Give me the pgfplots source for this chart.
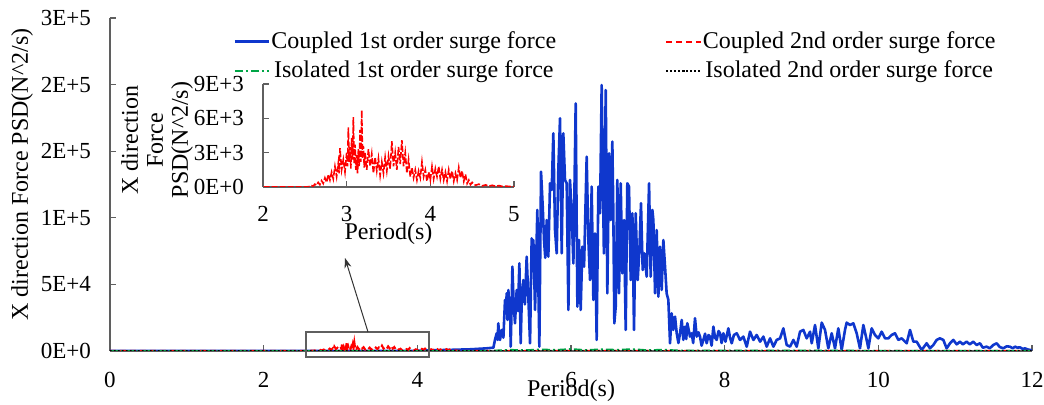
\documentclass[border=0pt]{standalone}
\usepackage{fontspec}
\setmainfont{Liberation Serif}
\usepackage{pgfplots}
\pgfplotsset{compat=1.18}
\usepackage{pgfplotstable}
\usetikzlibrary{arrows.meta}
\definecolor{cblue}{RGB}{15,55,205}
\definecolor{cred}{RGB}{255,0,0}
\definecolor{cgreen}{RGB}{0,165,70}
\definecolor{axgray}{RGB}{95,95,95}

\pgfplotstableread{
x y
0 0
3.9 0
4.1 400
4.4 800
4.7 1300
4.9 2000
4.99 2500
5.01 8300
5.033 13300
5.045 8300
5.054 20800
5.065 10000
5.076 8300
5.098 15800
5.12 10000
5.141 38300
5.152 28300
5.163 43300
5.174 23300
5.185 45800
5.195 30800
5.206 40000
5.215 3250
5.226 30000
5.237 63300
5.254 35000
5.271 20800
5.293 45800
5.31 30000
5.328 65800
5.345 5800
5.36 40000
5.380 53300
5.40 35000
5.423 70800
5.445 40000
5.467 5800
5.488 84600
5.50 60000
5.510 83300
5.532 30800
5.562 105900
5.575 50000
5.588 3250
5.610 134600
5.632 108400
5.649 83300
5.665 70000
5.684 98300
5.705 70800
5.727 125900
5.749 120900
5.770 163400
5.792 90800
5.814 73300
5.835 135900
5.857 174700
5.879 73300
5.900 163400
5.922 128400
5.944 125900
5.966 30800
5.987 128400
6.009 103400
6.031 65800
6.061 185900
6.083 33300
6.104 83300
6.126 30800
6.148 78300
6.170 63300
6.204 145900
6.226 83300
6.248 53300
6.269 123400
6.291 38300
6.313 88300
6.334 8300
6.356 123400
6.378 103400
6.399 199700
6.428 73300
6.452 195900
6.473 43300
6.495 148400
6.517 98300
6.538 157200
6.551 103400
6.564 20800
6.582 33300
6.603 128400
6.625 43300
6.647 125900
6.668 58300
6.690 98300
6.712 15800
6.733 125900
6.755 123400
6.777 53300
6.799 103400
6.820 15800
6.842 103400
6.868 53300
6.890 75800
6.911 110900
6.933 60800
6.955 73300
6.985 55800
7.016 125900
7.037 55800
7.059 105900
7.072 98300
7.094 43300
7.115 90800
7.137 40800
7.159 78300
7.180 45800
7.202 83300
7.224 63300
7.245 43300
7.267 38300
7.289 5800
7.310 28300
7.332 15800
7.354 25800
7.376 13300
7.398 6000
7.419 13300
7.441 23300
7.462 8300
7.484 18300
7.50 9000
7.514 20800
7.549 10800
7.571 13300
7.59 6000
7.614 24600
7.636 10800
7.66 14000
7.679 10800
7.70 4000
7.723 8300
7.745 13000
7.766 5800
7.79 12000
7.809 10800
7.83 4000
7.853 18300
7.875 10000
7.896 8300
7.92 15000
7.940 13300
7.96 6000
7.983 13300
8.01 7000
8.048 17000
8.07 10000
8.092 5800
8.12 12000
8.157 13300
8.200 8300
8.243 10800
8.287 3250
8.330 14500
8.374 8300
8.417 12000
8.461 7000
8.504 10800
8.547 3250
8.591 9500
8.634 3250
8.677 8300
8.721 9500
8.764 17000
8.807 4500
8.851 3250
8.894 8300
8.937 3250
8.981 14500
9.024 15800
9.068 9500
9.111 14500
9.133 5800
9.176 19500
9.219 2000
9.263 21300
9.306 15800
9.349 2000
9.393 13300
9.436 2000
9.479 17000
9.523 750
9.566 15800
9.588 21300
9.631 19500
9.675 20800
9.718 13300
9.761 2000
9.805 19500
9.848 8300
9.870 2000
9.913 17000
9.957 12000
10.000 9500
10.043 14500
10.087 9500
10.130 9500
10.173 12000
10.217 13300
10.260 8300
10.304 9500
10.369 5800
10.412 15800
10.456 7000
10.499 7000
10.564 750
10.629 5800
10.672 2000
10.716 4500
10.759 8300
10.802 9500
10.846 8300
10.889 2000
10.933 5800
10.976 8300
11.02 5000
11.063 7000
11.10 5000
11.149 7000
11.19 5000
11.236 7000
11.279 4500
11.323 5800
11.36 2500
11.410 3250
11.45 2000
11.496 4500
11.540 5800
11.58 3000
11.626 2000
11.67 3500
11.713 3250
11.75 2000
11.778 3250
11.81 2500
11.843 2750
11.88 1500
11.908 2000
11.939 1250
12.0 500
}\bluedata

\pgfplotstableread{
x y
0 0
2.50 0
2.54 20
2.56 50
2.58 120
2.60 80
2.62 250
2.64 150
2.66 400
2.68 200
2.70 550
2.72 300
2.74 800
2.76 400
2.78 1100
2.80 600
2.82 1300
2.84 700
2.86 1800
2.88 900
2.90 2100
2.91 1200
2.92 3400
2.94 1500
2.96 2400
2.98 1300
3.00 3000
3.01 1800
3.02 5200
3.03 2200
3.04 3500
3.05 1600
3.06 4300
3.07 2400
3.08 6100
3.09 2000
3.10 3700
3.11 1500
3.12 2800
3.13 1200
3.14 3300
3.15 1800
3.16 5000
3.17 2200
3.18 6700
3.19 2500
3.20 3600
3.21 1700
3.22 3000
3.24 1500
3.26 3300
3.28 1800
3.30 2900
3.32 1200
3.34 2600
3.36 1400
3.38 2500
3.40 1000
3.42 2200
3.44 1200
3.46 2600
3.48 1400
3.50 2700
3.52 1600
3.54 4000
3.56 1800
3.58 3000
3.60 1500
3.62 3500
3.64 2000
3.66 4100
3.68 1800
3.70 3000
3.72 1200
3.74 2400
3.76 900
3.78 1700
3.80 800
3.82 1500
3.84 600
3.86 1400
3.88 800
3.90 2200
3.92 900
3.94 1500
3.96 500
3.98 1300
4.00 600
4.02 1800
4.04 700
4.06 1600
4.08 900
4.10 1800
4.12 700
4.14 1500
4.16 600
4.18 1300
4.20 500
4.22 1500
4.24 700
4.26 1400
4.28 500
4.30 1200
4.32 600
4.34 1700
4.36 800
4.38 1400
4.40 500
4.42 1100
4.44 300
4.46 600
4.48 200
4.50 400
4.54 150
4.58 250
4.62 100
4.66 180
4.70 80
4.74 150
4.78 60
4.82 120
4.86 50
4.90 80
4.95 40
5.00 30
6.00 150
7.00 120
8.00 60
10.00 40
12.00 20
}\reddata

\pgfplotstableread{
x y
0 0
4.8 0
5.0 300
5.2 900
5.4 600
5.6 1200
5.8 800
6.0 1500
6.2 700
6.4 1300
6.6 900
6.8 1400
7.0 600
7.2 1000
7.4 400
8.0 300
9.0 400
10.0 200
11.0 150
12.0 100
}\greendata

\pgfplotstableread{
x y
0 0
3 100
5 50
6 200
7 150
8 50
12 0
}\blackdata

\begin{document}
\begin{tikzpicture}
\path[use as bounding box] (-55pt,-27pt) rectangle (467pt,175.5pt);
\begin{axis}[
  at={(0pt,0pt)}, anchor=south west,
  scale only axis, width=461pt, height=166.5pt,
  xmin=0, xmax=12, ymin=0, ymax=250000,
  enlargelimits=false,
  axis x line=bottom, axis y line=left,
  axis line style={axgray, line width=0.6pt, -},
  xtick={0,2,4,6,8,10,12}, xticklabels={0,2,4,6,8,10,12},
  ytick={0,50000,100000,150000,200000,250000},
  yticklabels={0E+0,5E+4,1E+5,2E+5,2E+5,3E+5},
  scaled y ticks=false,
  tick style={axgray, line width=0.6pt},
  major tick length=3pt,
  tick align=inside,
  ticklabel style={font=\fontsize{11.5}{13}\selectfont},
  yticklabel style={xshift=-6pt},
  xticklabel style={yshift=-7pt},
  xlabel={Period(s)},
  xlabel style={font=\fontsize{12}{14}\selectfont, at={(axis description cs:0.5,0)}, anchor=center, yshift=-20pt},
  ylabel={X direction Force PSD(N\textasciicircum 2/s)},
  ylabel style={font=\fontsize{12}{14}\selectfont, at={(axis description cs:-0.0954,0.53)}, anchor=center},
  legend columns=2,
  legend style={draw=none, fill=none, at={(rel axis cs:0.1335,0.964)}, anchor=north west,
    inner sep=0pt, font=\fontsize{12}{14}\selectfont,
    nodes={inner sep=0.6pt}, row sep=3.5pt,
    /tikz/column 2/.style={column sep=54pt}},
]
\addplot[cblue, line width=1.3pt, line join=round] table {\bluedata};
\addlegendentry{Coupled 1st order surge force}
\addplot[draw=cred, color=cred, line width=1pt, dash pattern=on 3pt off 2pt] table {\reddata};
\addlegendentry{Coupled 2nd order surge force}
\addplot[cgreen, line width=0.9pt, dash pattern=on 4pt off 1.5pt on 1pt off 1.5pt] table {\greendata};
\addlegendentry{Isolated 1st order surge force}
\addplot[black, line width=0.8pt, dash pattern=on 0.8pt off 1.2pt] table {\blackdata};
\addlegendentry{Isolated 2nd order surge force}
\end{axis}

\begin{axis}[
  at={(76.5pt,82pt)}, anchor=south west,
  scale only axis, width=125.5pt, height=51.5pt,
  xmin=2, xmax=5, ymin=0, ymax=9000,
  enlargelimits=false,
  axis x line=bottom, axis y line=left,
  axis line style={axgray, line width=0.6pt, -},
  xtick={2,3,4,5}, xticklabels={2,3,4,5},
  ytick={0,3000,6000,9000},
  yticklabels={0E+0,3E+3,6E+3,9E+3},
  scaled y ticks=false,
  tick style={axgray, line width=0.6pt},
  major tick length=3pt,
  tick align=inside,
  ticklabel style={font=\fontsize{11.5}{13}\selectfont},
  yticklabel style={xshift=-6pt},
  xticklabel style={yshift=-6pt},
  xlabel={Period(s)},
  xlabel style={font=\fontsize{12}{14}\selectfont, at={(axis description cs:0.5,0)}, anchor=center, yshift=-23.5pt},
  ylabel={X direction\\Force\\PSD(N\textasciicircum 2/s)},
  ylabel style={font=\fontsize{12}{12.5}\selectfont, align=center, at={(axis description cs:-0.4223,0.456)}, anchor=center},
]
\addplot[draw=cred, color=cred, line width=0.8pt, dash pattern=on 3pt off 1pt] table {\reddata};
\end{axis}

\draw[axgray, line width=0.7pt] (98pt,-3pt) rectangle (159.5pt,9.5pt);
\draw[-{Stealth[length=5pt,width=3.5pt]}, line width=0.5pt, black!80] (129pt,9.5pt) -- (117.5pt,46.5pt);
\end{tikzpicture}
\end{document}
